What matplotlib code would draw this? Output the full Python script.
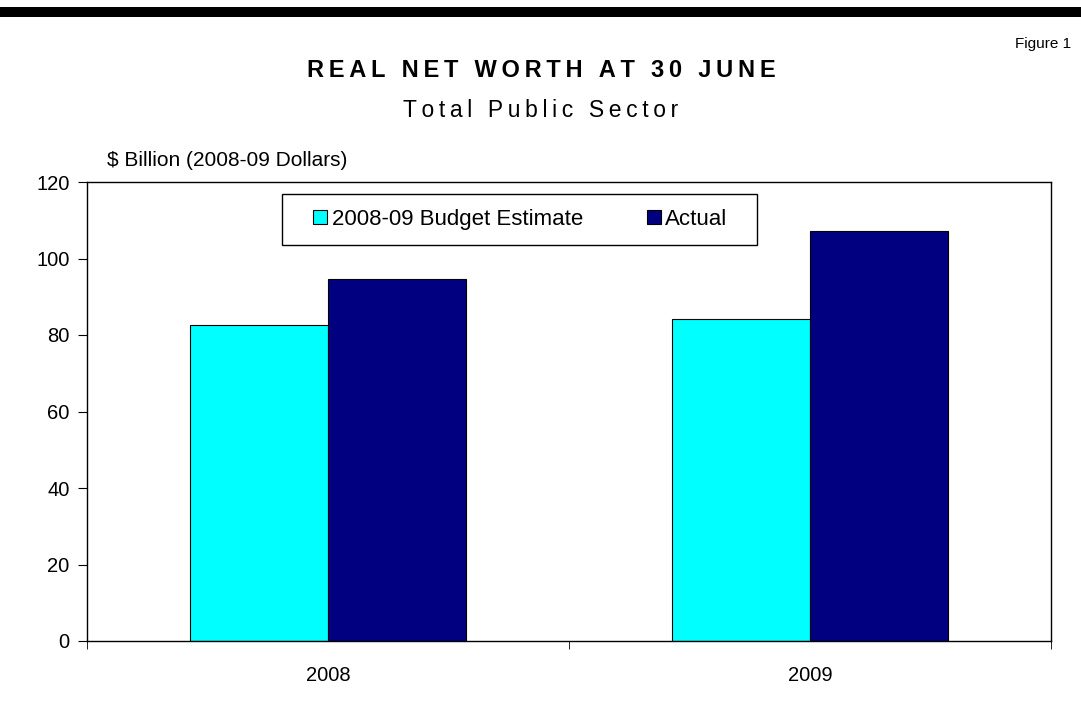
import numpy as np
import matplotlib.pyplot as plt
from matplotlib.patches import Rectangle

years = ['2008', '2009']
budget_estimate = [82.6, 84.2]
actual = [94.6, 107.1]
series_names = ['2008-09 Budget Estimate', 'Actual']
series_colors = ['#00FFFF', '#000080']
y_ticks = [0, 20, 40, 60, 80, 100, 120]

plt.rcParams['font.family'] = ['Liberation Sans', 'DejaVu Sans']

W, H = 1081, 722


def spaced(s):
    # widen the letter spacing with thin spaces
    return '\u2009'.join(s)


def fx(px):
    return px / W


def fy(py):
    return 1 - py / H


fig = plt.figure(figsize=(W / 100, H / 100), dpi=100)
ax = fig.add_axes([fx(87), fy(641), 964 / W, 459 / H])

# heavy rule across the top of the page
fig.patches.append(Rectangle((0, fy(17)), 1, 10 / H, transform=fig.transFigure,
                             facecolor='black', edgecolor='none'))

fig.text(fx(1071), fy(48), 'Figure 1', ha='right', va='baseline', fontsize=11)
fig.text(fx(541), fy(77), spaced('REAL NET WORTH AT 30 JUNE'), ha='center',
         va='baseline', fontsize=17, fontweight='bold')
fig.text(fx(541), fy(117), spaced('Total Public Sector'), ha='center',
         va='baseline', fontsize=16.5)
fig.text(fx(107), fy(160), '$ Billion (2008-09 Dollars)', ha='left', va='center',
         fontsize=15)

x = np.arange(len(years))
w = 0.287
ax.bar(x - w / 2, budget_estimate, w, color=series_colors[0], edgecolor='black',
       linewidth=0.8, label=series_names[0])
ax.bar(x + w / 2, actual, w, color=series_colors[1], edgecolor='black',
       linewidth=0.8, label=series_names[1])

ax.set_xlim(-0.5, len(years) - 0.5)
ax.set_ylim(0, 120)
ax.set_yticks(y_ticks)
ax.set_xticks(x)
ax.set_xticklabels(years)
ax.set_xticks([-0.5, 0.5, 1.5], minor=True)
ax.tick_params(axis='x', which='major', length=0, pad=18, labelsize=14.5)
ax.tick_params(axis='x', which='minor', length=6, direction='out')
ax.tick_params(axis='y', length=6.5, direction='out', labelsize=14.5, pad=6)
for sp in ax.spines.values():
    sp.set_linewidth(1.0)

# legend frame drawn separately so the side padding can be wider than the top
box_l, box_t, box_r, box_b = 282, 194, 757, 245
to_ax = ax.transAxes.inverted()
(bx0, by0), (bx1, by1) = to_ax.transform(
    fig.transFigure.transform([(fx(box_l), fy(box_b)), (fx(box_r), fy(box_t))]))
ax.add_patch(Rectangle((bx0, by0), bx1 - bx0, by1 - by0, transform=ax.transAxes,
                       facecolor='white', edgecolor='black', linewidth=1.0, zorder=4))
leg = ax.legend(loc='center', bbox_to_anchor=((bx0 + bx1) / 2 + 0.001, (by0 + by1) / 2),
                ncol=2, fontsize=16, frameon=False,
                handlelength=0.63, handleheight=0.63, handletextpad=0.22,
                columnspacing=2.84, borderpad=0.0)
leg.set_zorder(5)
for h in leg.legend_handles:
    h.set_linewidth(0.8)

fig.savefig('out.png', dpi=100)
